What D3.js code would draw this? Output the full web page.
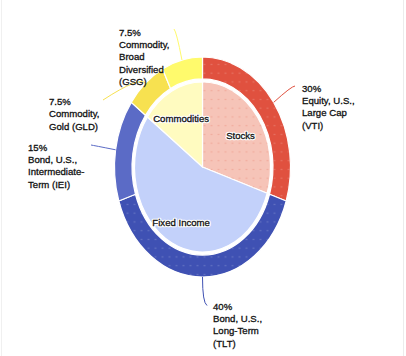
<!DOCTYPE html>
<html>
<head>
<meta charset="utf-8">
<script src="https://cdn.jsdelivr.net/npm/d3@7"></script>
<style>
html,body{margin:0;padding:0;background:#fff;}
svg{display:block;}
</style>
</head>
<body>
<svg id="chart" width="406" height="356"></svg>
<script>
// ---- data ----
const holdings = ["VTI", "TLT", "IEI", "GLD", "GSG"];
const holdingWeights = [30, 40, 15, 7.5, 7.5];
const holdingLabels = [
  ["30%", "Equity, U.S.,", "Large Cap", "(VTI)"],
  ["40%", "Bond, U.S.,", "Long-Term", "(TLT)"],
  ["15%", "Bond, U.S.,", "Intermediate-", "Term (IEI)"],
  ["7.5%", "Commodity,", "Gold (GLD)"],
  ["7.5%", "Commodity,", "Broad", "Diversified", "(GSG)"]
];
const assetClasses = ["Stocks", "Fixed Income", "Commodities"];
const classWeights = [30, 55, 15];

// ---- layout / style (not data) ----
const holdingColors = ["#e0513f", "#3f51b3", "#5b6bc6", "#f7e150", "#fffa6c"];
const classColors = ["#f6c4b8", "#c3d1fa", "#fffbc0"];
const labelAnchors = [[302, 91.5], [213, 309.5], [28, 150.5], [49, 105], [119, 35.5]];
const leaderEnds = [[295, 86], [207, 305.5], [91, 145], [103, 100], [174, 29]];
const cx = 202.5, cy = 167, sy = 1.25;
const rOuter = 88, rRingIn = 70.5, rPie = 68, rClassLabel = 47;
const lineH = 12.4;
const FONT = "'Liberation Sans', Arial, sans-serif";

const svg = d3.select("#chart");
svg.append("rect").attr("x", 0).attr("y", 0).attr("width", 406).attr("height", 356).attr("fill", "#fff");
svg.append("line").attr("x1", 1.5).attr("x2", 1.5).attr("y1", 0).attr("y2", 356).attr("stroke", "#f0f0f0");
svg.append("line").attr("x1", 403.5).attr("x2", 403.5).attr("y1", 0).attr("y2", 356).attr("stroke", "#ececec");

const defs = svg.append("defs");
function dotPattern(id, col) {
  const p = defs.append("pattern").attr("id", id).attr("patternUnits", "userSpaceOnUse")
    .attr("width", 7).attr("height", 7);
  p.append("circle").attr("cx", 2).attr("cy", 2).attr("r", 0.55).attr("fill", col);
}
dotPattern("dotsLight", "rgba(255,255,255,0.35)");
dotPattern("dotsRed", "rgba(225,90,70,0.45)");

const pie = d3.pie().sort(null).value(d => d).startAngle(0).endAngle(2 * Math.PI);
const outerArcs = pie(holdingWeights);
const innerArcs = pie(classWeights);

const ringArc = d3.arc().innerRadius(rRingIn).outerRadius(rOuter);
const pieArc = d3.arc().innerRadius(0).outerRadius(rPie);

const g = svg.append("g").attr("transform", `translate(${cx},${cy}) scale(1,${sy})`);

// inner pie
g.selectAll("path.cls").data(innerArcs).enter().append("path")
  .attr("class", "cls")
  .attr("d", pieArc)
  .attr("fill", (d, i) => classColors[i])
  .attr("stroke", "#fff").attr("stroke-width", 1.2)
  .attr("vector-effect", "non-scaling-stroke");
g.append("path").attr("d", pieArc(innerArcs[0])).attr("fill", "url(#dotsRed)");

// outer ring
g.selectAll("path.hold").data(outerArcs).enter().append("path")
  .attr("class", "hold")
  .attr("d", ringArc)
  .attr("fill", (d, i) => holdingColors[i])
  .attr("stroke", "#fff").attr("stroke-width", 1.2)
  .attr("vector-effect", "non-scaling-stroke");
[0, 1].forEach(i => g.append("path").attr("d", ringArc(outerArcs[i])).attr("fill", "url(#dotsLight)"));

function toScreen(r, a) { return [cx + r * Math.sin(a), cy - r * Math.cos(a) * sy]; }

// leader lines
outerArcs.forEach((d, i) => {
  const a = (d.startAngle + d.endAngle) / 2;
  const s = toScreen(rOuter, a);
  let dir = [Math.sin(a), -Math.cos(a) * sy];
  const n = Math.hypot(dir[0], dir[1]); dir = [dir[0] / n, dir[1] / n];
  const e = leaderEnds[i];
  const proj = Math.max(0, (e[0] - s[0]) * dir[0] + (e[1] - s[1]) * dir[1]) * 0.9;
  const c = [s[0] + dir[0] * proj, s[1] + dir[1] * proj];
  svg.append("path")
    .attr("d", `M${s[0]},${s[1]} Q${c[0]},${c[1]} ${e[0]},${e[1]}`)
    .attr("fill", "none").attr("stroke", holdingColors[i]).attr("stroke-width", 1);
});

// outer labels
holdingLabels.forEach((lines, i) => {
  const t = svg.append("text")
    .attr("x", labelAnchors[i][0]).attr("y", labelAnchors[i][1])
    .attr("font-family", FONT)
    .attr("font-size", "9.6px").attr("fill", "#111")
    .attr("stroke", "#111").attr("stroke-width", 0.3);
  lines.forEach((ln, j) => {
    t.append("tspan").attr("x", labelAnchors[i][0]).attr("dy", j === 0 ? 0 : lineH).text(ln);
  });
});

// inner labels (with halo)
const labelArc = d3.arc().innerRadius(rClassLabel).outerRadius(rClassLabel);
innerArcs.forEach((d, i) => {
  const c = labelArc.centroid(d);
  const x = cx + c[0], y = cy + c[1] * sy + 7;
  svg.append("text")
    .attr("x", x).attr("y", y)
    .attr("text-anchor", "middle")
    .attr("font-family", FONT).attr("font-size", "9.6px")
    .attr("fill", "#fff").attr("stroke", "#fff").attr("stroke-width", 2.6)
    .attr("stroke-linejoin", "round")
    .text(assetClasses[i]);
  svg.append("text")
    .attr("x", x).attr("y", y)
    .attr("text-anchor", "middle")
    .attr("font-family", FONT).attr("font-size", "9.6px")
    .attr("fill", "#111").attr("stroke", "#111").attr("stroke-width", 0.3)
    .text(assetClasses[i]);
});
</script>
</body>
</html>
